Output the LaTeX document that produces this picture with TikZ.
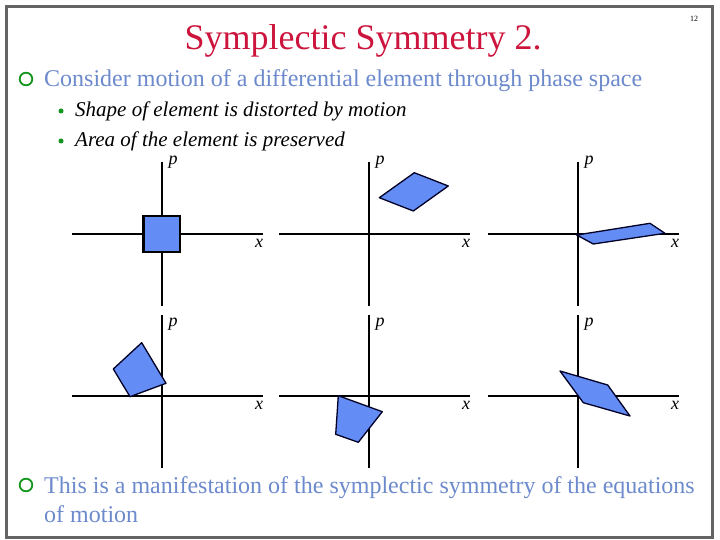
\documentclass[tikz,border=0pt]{standalone}
\usepackage{fontspec}
\setmainfont{Liberation Serif}
\usepackage{tikz}
\usetikzlibrary{arrows.meta,calc}
\definecolor{titlered}{RGB}{204,20,60}
\definecolor{textblue}{RGB}{108,138,204}
\definecolor{bulletgreen}{RGB}{20,150,30}
\definecolor{elemblue}{RGB}{100,140,245}
\definecolor{framegray}{RGB}{100,100,100}

\begin{document}
\begin{tikzpicture}[x=1pt,y=-1pt,
    axis/.style={line width=2.5pt,black},
    elem/.style={fill=elemblue,draw=black!85!blue,line width=1.3pt,line join=round},
    lbl/.style={font=\fontsize{18}{18}\selectfont\itshape,inner sep=0pt}]
  \useasboundingbox (0,0) rectangle (720,540);
  \fill[white] (0,0) rectangle (720,540);

  % ---- slide frame, title, page number ----------------------------------
  \draw[framegray,line width=3pt] (6,6.5) rectangle (712.5,537);
  \node[titlered,font=\fontsize{36}{36}\selectfont,anchor=base] (title) at (363,50)
        {Symplectic Symmetry 2.};
  \node[font=\fontsize{8}{8}\selectfont,anchor=base] (pageno) at (694,22) {12};

  % ---- bullets -----------------------------------------------------------
  \draw[bulletgreen,line width=1.8pt] (26,79) circle (6.3);
  \node[textblue,font=\fontsize{24}{24}\selectfont,anchor=base west,inner sep=0pt] (motion)
        at (44,87) {Consider motion of a differential element through phase space};
  \fill[bulletgreen] (61,111) circle (2.5);
  \fill[bulletgreen] (61,141) circle (2.5);
  \node[font=\fontsize{21}{21}\selectfont\itshape,anchor=base west,inner sep=0pt] (shape)
        at (75,117) {Shape of element is distorted by motion};
  \node[font=\fontsize{21}{21}\selectfont\itshape,anchor=base west,inner sep=0pt] (area)
        at (75,147) {Area of the element is preserved};

  % ---- six phase-space panels: axes and labels ---------------------------
  \foreach \cx/\cy/\tp/\n in {162/234/72/a,369/234/72/b,578/234/72/c,
                              162/396/81/d,369/396/81/e,578/396/81/f}{
    \draw[axis] (\cx-90,\cy) -- (\cx+101,\cy);
    \draw[axis] (\cx,\cy-\tp) -- (\cx,\cy+72);
    \node[lbl] (p\n) at (\cx+11,\cy-72) {p};
    \node[lbl] (x\n) at (\cx+97,\cy+9) {x};
  }

  % ---- the element, before and after motion ------------------------------
  \filldraw[fill=elemblue,draw=black,line width=2.2pt] (143.5,216) rectangle (180,252);
  \filldraw[elem] (379.3,197.7) -- (414.3,172.7) -- (448.3,186) -- (413.3,211) -- cycle;
  \filldraw[elem] (576.7,235) -- (650,223.3) -- (665,233.3) -- (593.3,244) -- cycle;
  \filldraw[elem] (113.3,369) -- (141.7,342.7) -- (166,383.3) -- (130,396.7) -- cycle;
  \filldraw[elem] (338.3,395.7) -- (382.3,411.7) -- (358.3,442.3) -- (335.7,434.3) -- cycle;
  \filldraw[elem] (560,371) -- (607.7,385) -- (630,416) -- (583.3,402.7) -- cycle;

  % ---- closing remark ----------------------------------------------------
  \draw[bulletgreen,line width=1.8pt] (26,485) circle (6.3);
  \node[textblue,font=\fontsize{24}{24}\selectfont,anchor=base west,inner sep=0pt] (remark)
        at (44,493) {This is a manifestation of the symplectic symmetry of the equations};
  \node[textblue,font=\fontsize{24}{24}\selectfont,anchor=base west,inner sep=0pt] (remarktwo)
        at (44,522) {of motion};
\end{tikzpicture}
\end{document}
